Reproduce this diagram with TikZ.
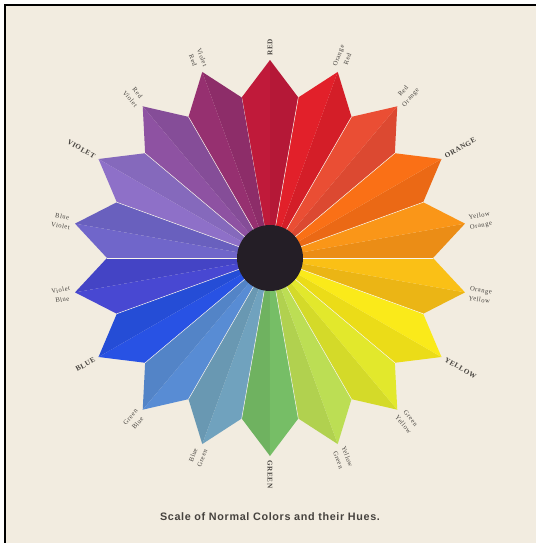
\documentclass[tikz,border=0pt]{standalone}
\usepackage{fontspec}
\usepackage{tikz}
\usetikzlibrary{positioning}

\newfontfamily\capfont[LetterSpace=6]{Liberation Sans}
\newfontfamily\hueserif[LetterSpace=8]{Liberation Serif}

\definecolor{paper}{RGB}{242,236,224}
\definecolor{hubdark}{RGB}{36,30,38}
\definecolor{inkgray}{RGB}{70,66,62}
% the eighteen hues, clockwise from the top
\definecolor{hRed}{RGB}{192,26,58}
\definecolor{hOrRed}{RGB}{226,32,42}
\definecolor{hRedOr}{RGB}{234,78,52}
\definecolor{hOrange}{RGB}{250,112,22}
\definecolor{hYelOr}{RGB}{250,150,24}
\definecolor{hOrYel}{RGB}{250,192,22}
\definecolor{hYellow}{RGB}{250,234,26}
\definecolor{hGrYel}{RGB}{226,232,44}
\definecolor{hYelGr}{RGB}{188,222,84}
\definecolor{hGreen}{RGB}{118,190,102}
\definecolor{hBlGr}{RGB}{112,162,190}
\definecolor{hGrBl}{RGB}{88,140,212}
\definecolor{hBlue}{RGB}{40,82,228}
\definecolor{hViBl}{RGB}{72,72,210}
\definecolor{hBlVi}{RGB}{112,102,202}
\definecolor{hViolet}{RGB}{142,112,200}
\definecolor{hRedVi}{RGB}{142,82,162}
\definecolor{hViRed}{RGB}{150,48,112}

\begin{document}
\begin{tikzpicture}[
    x=0.5pt, y=0.5pt,
    huelabel/.style={font=\hueserif\fontsize{3.3}{4.8}\selectfont, text=inkgray, inner sep=0pt, align=center},
    mainlabel/.style={huelabel, font=\hueserif\bfseries\fontsize{3.6}{4.8}\selectfont},
    seam/.style={draw=paper!60!white, line width=0.25pt},
  ]
  \fill[white] (0,0) rectangle (536,543);
  \useasboundingbox (0,0) rectangle (536,543);
  \fill[paper] (5,0) rectangle (536,538);
  \draw[line width=1.1pt] (5,0) -- (5,538) -- (536,538);

  \coordinate (hub) at (270,285);
  \begin{scope}[shift={(hub)}]
    % petals, each folded along its middle
    \foreach \a/\col in {90/hRed, 70/hOrRed, 50/hRedOr, 30/hOrange, 10/hYelOr,
        -10/hOrYel, -30/hYellow, -50/hGrYel, -70/hYelGr, -90/hGreen,
        -110/hBlGr, -130/hGrBl, -150/hBlue, -170/hViBl, 170/hBlVi,
        150/hViolet, 130/hRedVi, 110/hViRed} {
      \fill[\col!94!black] (0,0) -- (\a-10:163) -- (\a:198) -- cycle;
      \fill[\col] (0,0) -- (\a:198) -- (\a+10:163) -- cycle;
      \draw[seam] (0,0) -- (\a+10:163);
    }
    % labels on the right half
    \foreach \a/\txt/\sty [count=\i] in {90/RED/mainlabel, 70/{Orange\\Red}/huelabel,
        50/{Red\\Orange}/huelabel, 30/ORANGE/mainlabel, 10/{Yellow\\Orange}/huelabel,
        -10/{Orange\\Yellow}/huelabel, -30/YELLOW/mainlabel, -50/{Green\\Yellow}/huelabel,
        -70/{Yellow\\Green}/huelabel, -90/GREEN/mainlabel} {
      \node[\sty, anchor=west, rotate=\a] (r\i) at (\a:202) {\txt};
    }
    % labels on the left half
    \foreach \a/\txt/\sty [count=\i] in {110/{Violet\\Red}/huelabel, 130/{Red\\Violet}/huelabel,
        150/VIOLET/mainlabel, 170/{Blue\\Violet}/huelabel, 190/{Violet\\Blue}/huelabel,
        210/BLUE/mainlabel, 230/{Green\\Blue}/huelabel, 250/{Blue\\Green}/huelabel} {
      \node[\sty, anchor=east, rotate=\a+180] (l\i) at (\a:202) {\txt};
    }
  \end{scope}

  \fill[hubdark] (hub) circle (33);
  \node[font=\capfont\bfseries\fontsize{5.4}{6}\selectfont, text=inkgray] (caption) at (270,26)
    {Scale of Normal Colors and their Hues.};
\end{tikzpicture}
\end{document}
